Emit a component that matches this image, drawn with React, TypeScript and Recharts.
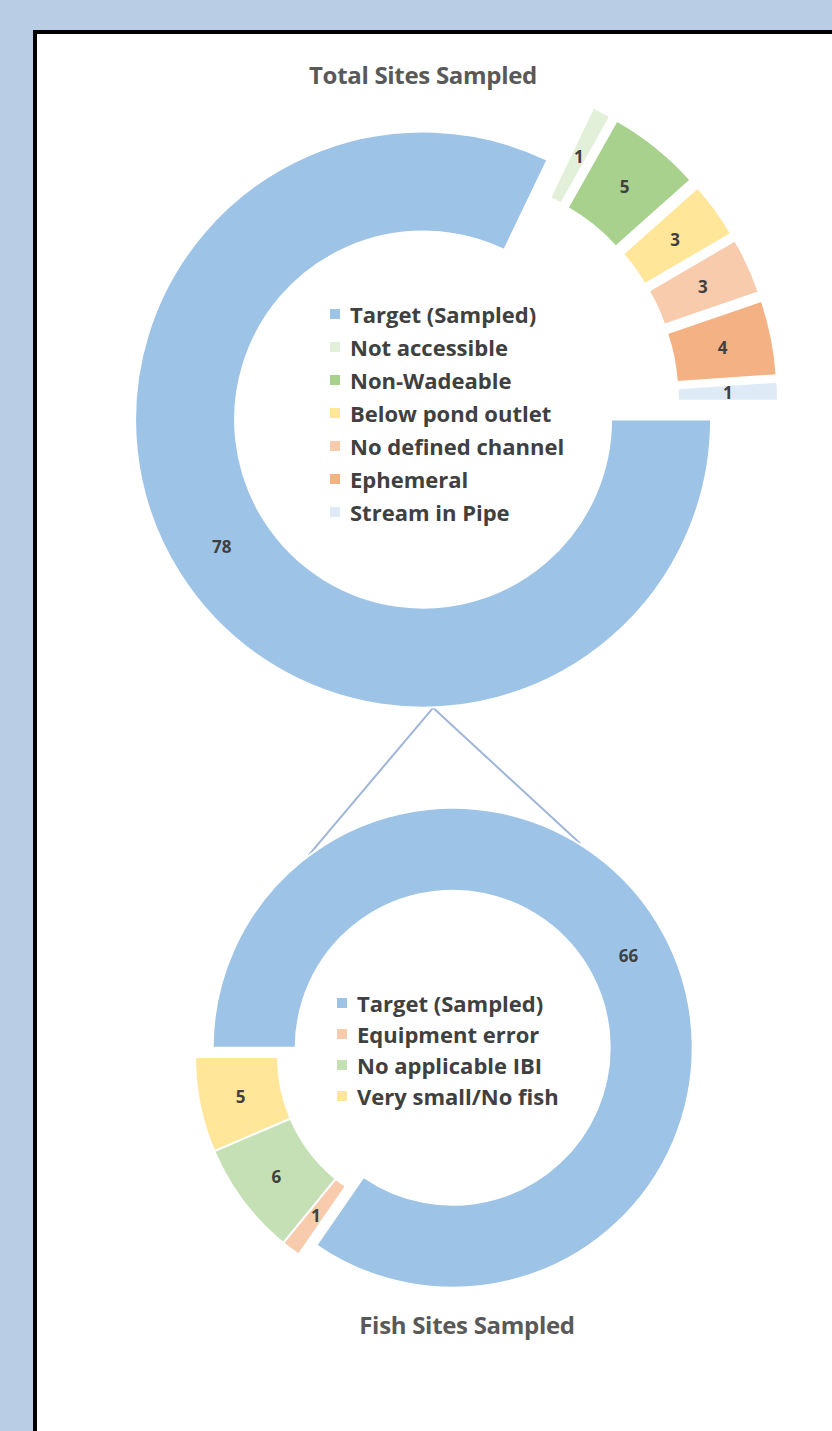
import React from "react"
import { Cell, Pie, PieChart } from "recharts"

const totalCategories = [
  "Target (Sampled)",
  "Not accessible",
  "Non-Wadeable",
  "Below pond outlet",
  "No defined channel",
  "Ephemeral",
  "Stream in Pipe",
]
const totalValues = [78, 1, 5, 3, 3, 4, 1]
const totalColors = ["#9dc3e6", "#e2f0d9", "#a9d18e", "#ffe699", "#f8cbad", "#f4b183", "#deebf7"]

const fishCategories = ["Target (Sampled)", "Equipment error", "No applicable IBI", "Very small/No fish"]
const fishValues = [66, 1, 6, 5]
const fishColors = ["#9dc3e6", "#f8cbad", "#c5e0b4", "#ffe699"]

const W = 832
const H = 1431
const RADIAN = Math.PI / 180
const FONT = "'Open Sans', 'DejaVu Sans', sans-serif"
const TEXT = "#404040"

interface DonutConfig {
  cx: number
  cy: number
  inner: number
  outer: number
  start: number
  end: number
  targetExplode: number
  sliceExplode: number
}

const topDonut: DonutConfig = {
  cx: 451, cy: 402, inner: 188, outer: 288,
  start: 0, end: -360, targetExplode: 33, sliceExplode: 39,
}
const bottomDonut: DonutConfig = {
  cx: 435, cy: 1057, inner: 157, outer: 240,
  start: 180, end: -180, targetExplode: 20, sliceExplode: 0,
}

// one Pie per slice so each slice can be pulled out along its own bisector
function explodedPies(key: string, cats: string[], values: number[], colors: string[], cfg: DonutConfig) {
  const total = values.reduce((a, b) => a + b, 0)
  const data = cats.map((name, i) => ({ name, value: values[i] }))
  const dir = cfg.end < cfg.start ? -1 : 1
  let cum = 0
  return values.map((v, i) => {
    const mid = cfg.start + (dir * (cum + v / 2) * 360) / total
    cum += v
    const d = i === 0 ? cfg.targetExplode : cfg.sliceExplode
    const cx = cfg.cx + d * Math.cos(mid * RADIAN)
    const cy = cfg.cy - d * Math.sin(mid * RADIAN)
    return (
      <Pie
        key={`${key}-${i}`}
        data={data}
        dataKey="value"
        nameKey="name"
        cx={cx}
        cy={cy}
        innerRadius={cfg.inner}
        outerRadius={cfg.outer}
        startAngle={cfg.start}
        endAngle={cfg.end}
        isAnimationActive={false}
        labelLine={false}
        label={(p: any) => {
          if (p.index !== i) return null
          const r = (p.innerRadius + p.outerRadius) / 2
          const x = p.cx + r * Math.cos(-p.midAngle * RADIAN)
          const y = p.cy + r * Math.sin(-p.midAngle * RADIAN)
          return (
            <text x={x} y={y} fill={TEXT} fontSize={17} fontWeight={700} fontFamily={FONT}
              textAnchor="middle" dominantBaseline="central">
              {p.value}
            </text>
          )
        }}
      >
        {data.map((_, j) => (
          <Cell
            key={j}
            fill={j === i ? colors[j] : "none"}
            stroke={j === i ? "#ffffff" : "none"}
            strokeWidth={2}
          />
        ))}
      </Pie>
    )
  })
}

function LegendBox({ cats, colors, left, top, gap }: { cats: string[]; colors: string[]; left: number; top: number; gap: number }) {
  return (
    <div style={{ position: "absolute", left, top, fontFamily: FONT, fontWeight: 700, fontSize: 22, color: TEXT }}>
      {cats.map((c, i) => (
        <div key={c} style={{ height: gap, display: "flex", alignItems: "center", whiteSpace: "nowrap" }}>
          <span style={{ display: "inline-block", width: 10, height: 10, background: colors[i], marginRight: 10 }} />
          {c}
        </div>
      ))}
    </div>
  )
}

// connector between the two donuts: from the bottom of the top ring to the bottom ring's outer edge
const topTargetCx = 423
const topTargetCy = 420
const botTargetCx = 453
const botTargetCy = 1047
const apex = {
  x: topTargetCx + topDonut.outer * Math.cos(-88 * RADIAN),
  y: topTargetCy - topDonut.outer * Math.sin(-88 * RADIAN),
}
const leftEnd = {
  x: botTargetCx + bottomDonut.outer * Math.cos(127 * RADIAN),
  y: botTargetCy - bottomDonut.outer * Math.sin(127 * RADIAN),
}
const rightEnd = {
  x: botTargetCx + bottomDonut.outer * Math.cos(58 * RADIAN),
  y: botTargetCy - bottomDonut.outer * Math.sin(58 * RADIAN),
}

export default function App() {
  return (
    <div style={{ position: "absolute", left: 0, top: 0, width: W, height: H, overflow: "hidden", background: "#b9cde5" }}>
      <div
        style={{
          position: "absolute", left: 33, top: 30, width: 900, height: 1500,
          background: "#ffffff", borderLeft: "4px solid #000", borderTop: "4px solid #000",
        }}
      />
      <svg width={W} height={H} style={{ position: "absolute", left: 0, top: 0 }}>
        <line x1={apex.x} y1={apex.y} x2={leftEnd.x} y2={leftEnd.y} stroke="#9fb6da" strokeWidth={2} />
        <line x1={apex.x} y1={apex.y} x2={rightEnd.x} y2={rightEnd.y} stroke="#9fb6da" strokeWidth={2} />
      </svg>
      <div style={{ position: "absolute", left: 0, top: 0 }}>
        <PieChart width={W} height={H} margin={{ top: 0, right: 0, bottom: 0, left: 0 }}>
          {explodedPies("total", totalCategories, totalValues, totalColors, topDonut)}
          {explodedPies("fish", fishCategories, fishValues, fishColors, bottomDonut)}
        </PieChart>
      </div>
      <div style={{ position: "absolute", left: 0, width: 846, top: 58, textAlign: "center", fontFamily: FONT, fontWeight: 700, fontSize: 24, color: "#595959", letterSpacing: -0.3 }}>
        Total Sites Sampled
      </div>
      <div style={{ position: "absolute", left: 0, width: 934, top: 1308, textAlign: "center", fontFamily: FONT, fontWeight: 700, fontSize: 24, color: "#595959", letterSpacing: -0.3 }}>
        Fish Sites Sampled
      </div>
      <LegendBox cats={totalCategories} colors={totalColors} left={330} top={297} gap={33} />
      <LegendBox cats={fishCategories} colors={fishColors} left={337} top={987} gap={31} />
    </div>
  )
}
